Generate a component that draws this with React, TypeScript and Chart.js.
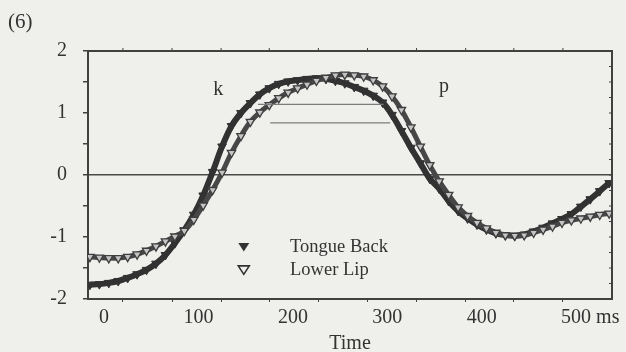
import React, { useEffect, useRef } from "react";
import { Chart, registerables } from "chart.js";

Chart.register(...registerables);

// ---- data ----
const TIME = [
  -15, -5, 5, 15, 25, 35, 45, 55, 65, 75, 85, 95, 105, 115, 125, 135, 145, 155, 165, 175,
  185, 195, 205, 215, 225, 235, 245, 255, 265, 275, 285, 295, 305, 315, 325, 335, 345, 355, 365, 375,
  385, 395, 405, 415, 425, 435, 445, 455, 465, 475, 485, 495, 505, 515, 525, 535,
];

const TONGUE_BACK = [
  -1.77, -1.76, -1.74, -1.71, -1.66, -1.6, -1.53, -1.43, -1.29, -1.1, -0.89, -0.64, -0.33, 0.05, 0.46, 0.79, 1.0, 1.16, 1.3, 1.4,
  1.47, 1.51, 1.53, 1.55, 1.56, 1.55, 1.52, 1.48, 1.42, 1.36, 1.28, 1.17, 0.97, 0.71, 0.44, 0.19, -0.06, -0.22, -0.42, -0.58,
  -0.7, -0.8, -0.88, -0.94, -0.97, -0.98, -0.96, -0.91, -0.85, -0.78, -0.71, -0.63, -0.51, -0.39, -0.26, -0.13,
];

const LOWER_LIP = [
  -1.32, -1.33, -1.34, -1.34, -1.32, -1.28, -1.22, -1.15, -1.07, -0.99, -0.9, -0.72, -0.49, -0.24, 0.04, 0.36, 0.63, 0.86, 1.01, 1.13,
  1.24, 1.33, 1.4, 1.46, 1.52, 1.57, 1.61, 1.62, 1.61, 1.59, 1.53, 1.43, 1.27, 1.05, 0.77, 0.46, 0.16, -0.1, -0.32, -0.52,
  -0.66, -0.77, -0.86, -0.93, -0.97, -0.98, -0.97, -0.93, -0.88, -0.83, -0.77, -0.73, -0.7, -0.67, -0.64, -0.62,
];

// horizontal guide segments inside the hump
const GUIDE_LEVELS = [1.14, 0.84];
const GUIDE_START = [163, 176];
const GUIDE_END = [296, 303];

const SERIES_LABELS = ["Tongue Back", "Lower Lip"];
const PHONE_LABELS = ["k", "p"];
const PHONE_TIME = [121, 360];
const PHONE_LEVEL = [1.29, 1.34];

const X_LABEL_TICKS = [0, 100, 200, 300, 400, 500];
const X_TICK_MARKS = [20, 72, 124, 175, 227, 279, 331, 383, 434, 486];
const X_UNIT = "ms";
const Y_LABEL_TICKS = [-2, -1, 0, 1, 2];
const Y_TICK_MARKS = [-2, -1.5, -1, -0.5, 0, 0.5, 1, 1.5, 2];
const Y_RIGHT_TICK_MARKS = [-1.75, -1.5, -1.25, -1, -0.75, -0.5, -0.25, 0, 0.25, 0.5, 0.75, 1, 1.25, 1.5, 1.75];

// ---- styling ----
const FONT = '"Liberation Serif", "Times New Roman", serif';
const TEXT = "#333333";
const AXIS = "#404040";
const DARK = "#323232";
const LEGEND_POS = { markerTime: 148, textTime: 197, levels: [-1.16, -1.53] };

export default function App() {
  const ref = useRef<HTMLCanvasElement>(null);

  useEffect(() => {
    const canvas = ref.current;
    if (!canvas) return;

    const frame = {
      id: "frame",
      afterDraw(chart: any) {
        const { ctx, chartArea: a, scales } = chart;
        const xs = scales.x;
        const ys = scales.y;
        ctx.save();
        // top and right border
        ctx.strokeStyle = AXIS;
        ctx.lineWidth = 2;
        ctx.beginPath();
        ctx.moveTo(a.left, a.top);
        ctx.lineTo(a.right, a.top);
        ctx.lineTo(a.right, a.bottom);
        ctx.stroke();
        // top and right tick marks
        ctx.lineWidth = 1;
        ctx.beginPath();
        for (const v of X_TICK_MARKS) {
          const px = xs.getPixelForValue(v);
          ctx.moveTo(px, a.top);
          ctx.lineTo(px, a.top - 3);
        }
        for (const v of Y_RIGHT_TICK_MARKS) {
          const py = ys.getPixelForValue(v);
          ctx.moveTo(a.right, py);
          ctx.lineTo(a.right - 3, py);
        }
        ctx.stroke();

        // phone labels
        ctx.fillStyle = TEXT;
        ctx.font = `20px ${FONT}`;
        ctx.textAlign = "center";
        ctx.textBaseline = "alphabetic";
        PHONE_LABELS.forEach((s, i) => {
          ctx.fillText(s, xs.getPixelForValue(PHONE_TIME[i]), ys.getPixelForValue(PHONE_LEVEL[i]));
        });

        // legend
        const mx = xs.getPixelForValue(LEGEND_POS.markerTime);
        const tx = xs.getPixelForValue(LEGEND_POS.textTime);
        ctx.font = `18.5px ${FONT}`;
        ctx.textAlign = "left";
        ctx.textBaseline = "middle";
        SERIES_LABELS.forEach((s, i) => {
          const my = ys.getPixelForValue(LEGEND_POS.levels[i]);
          ctx.beginPath();
          ctx.moveTo(mx - 5.5, my - 4);
          ctx.lineTo(mx + 5.5, my - 4);
          ctx.lineTo(mx, my + 4.5);
          ctx.closePath();
          if (i === 0) {
            ctx.fillStyle = DARK;
            ctx.fill();
          } else {
            ctx.strokeStyle = DARK;
            ctx.lineWidth = 1.6;
            ctx.stroke();
          }
          ctx.fillStyle = TEXT;
          ctx.fillText(s, tx, my);
        });

        // unit after last x label
        ctx.font = `20px ${FONT}`;
        const last = X_LABEL_TICKS[X_LABEL_TICKS.length - 1];
        const lx = xs.getPixelForValue(last) + ctx.measureText(String(last)).width / 2 + ctx.measureText(" ").width;
        const ly = a.bottom + 3 + 4 + 12;
        ctx.textAlign = "left";
        ctx.textBaseline = "middle";
        ctx.fillText(X_UNIT, lx, ly);
        ctx.restore();
      },
    };

    const chart = new Chart(canvas, {
      type: "line",
      data: {
        datasets: [
          ...GUIDE_LEVELS.map((lvl, i) => ({
            label: "guide" + i,
            data: [
              { x: GUIDE_START[i], y: lvl },
              { x: GUIDE_END[i], y: lvl },
            ],
            borderColor: "#7c7c7c",
            borderWidth: 1.3,
            pointRadius: 0,
            tension: 0,
          })),
          {
            label: SERIES_LABELS[1],
            data: TIME.map((t, i) => ({ x: t, y: LOWER_LIP[i] })),
            borderColor: "#474747",
            borderWidth: 5,
            pointStyle: "triangle",
            rotation: 180,
            pointRadius: 4.8,
            pointBackgroundColor: "#c4c4c4",
            pointBorderColor: "#3e3e3e",
            pointBorderWidth: 1.3,
            tension: 0.3,
          },
          {
            label: SERIES_LABELS[0],
            data: TIME.map((t, i) => ({ x: t, y: TONGUE_BACK[i] })),
            borderColor: DARK,
            borderWidth: 6,
            pointStyle: "triangle",
            rotation: 180,
            pointRadius: 5,
            pointBackgroundColor: DARK,
            pointBorderColor: DARK,
            pointBorderWidth: 1,
            tension: 0.3,
          },
        ],
      },
      options: {
        animation: false,
        responsive: false,
        events: [],
        layout: { padding: { top: 51, right: 14, left: 0, bottom: 0 } },
        plugins: { legend: { display: false }, tooltip: { enabled: false } },
        scales: {
          x: {
            type: "linear",
            min: -17,
            max: 538,
            afterBuildTicks: (s: any) => {
              s.ticks = [...X_LABEL_TICKS, ...X_TICK_MARKS].sort((p, q) => p - q).map((v) => ({ value: v }));
            },
            afterFit: (s: any) => {
              s.height = 53;
            },
            ticks: {
              autoSkip: false,
              maxRotation: 0,
              padding: 4,
              color: TEXT,
              font: { family: FONT, size: 20 },
              callback: (v: any) => (X_LABEL_TICKS.includes(v) ? String(v) : ""),
            },
            grid: {
              drawOnChartArea: false,
              tickLength: 3,
              tickWidth: 1,
              tickColor: (c: any) => (c.tick && X_TICK_MARKS.includes(c.tick.value) ? AXIS : "rgba(0,0,0,0)"),
            },
            border: { color: AXIS, width: 2 },
            title: {
              display: true,
              text: "Time",
              color: TEXT,
              font: { family: FONT, size: 20, lineHeight: 1 },
              padding: { top: 0, bottom: -2 },
            },
          },
          y: {
            type: "linear",
            min: -2,
            max: 2,
            afterBuildTicks: (s: any) => {
              s.ticks = Y_TICK_MARKS.map((v) => ({ value: v }));
            },
            afterFit: (s: any) => {
              s.width = 88;
            },
            ticks: {
              padding: 16,
              color: TEXT,
              font: { family: FONT, size: 20 },
              callback: (v: any) => (Y_LABEL_TICKS.includes(v) ? String(v) : ""),
            },
            grid: {
              color: (c: any) => (c.tick && c.tick.value === 0 ? "#4a4a4a" : "rgba(0,0,0,0)"),
              lineWidth: 1.5,
              tickLength: 5,
              tickColor: AXIS,
            },
            border: { color: AXIS, width: 2 },
          },
        },
      },
      plugins: [frame],
    } as any);

    return () => chart.destroy();
  }, []);

  return (
    <div style={{ position: "absolute", left: 0, top: 0, width: 626, height: 352, background: "#efefec" }}>
      <canvas ref={ref} width={626} height={352} style={{ display: "block" }} />
      <div
        style={{
          position: "absolute",
          left: 8,
          top: 9,
          fontFamily: FONT,
          fontSize: 21,
          lineHeight: "24px",
          color: TEXT,
        }}
      >
        (6)
      </div>
    </div>
  );
}
